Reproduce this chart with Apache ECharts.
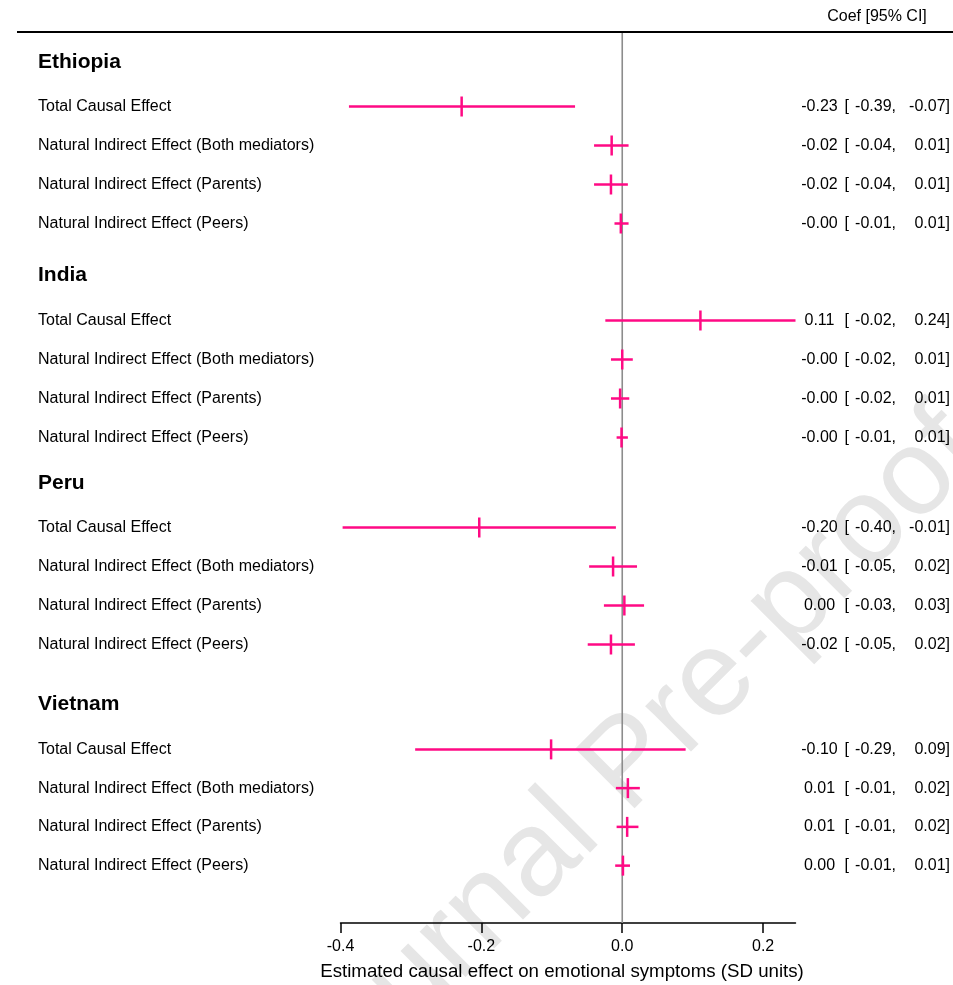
<!DOCTYPE html>
<html><head><meta charset="utf-8">
<script src="https://cdn.jsdelivr.net/npm/echarts@6/dist/echarts.min.js"></script>
<style>html,body{margin:0;padding:0;background:#fff}#c{width:953px;height:985px}</style>
</head><body><div id="c"></div>
<script>
// ---- data ----
const countries = ['Ethiopia', 'India', 'Peru', 'Vietnam'];
const effects = [
  'Total Causal Effect',
  'Natural Indirect Effect (Both mediators)',
  'Natural Indirect Effect (Parents)',
  'Natural Indirect Effect (Peers)'
];
const ethiopiaCoef  = [-0.228, -0.015, -0.016, -0.002];
const ethiopiaLower = [-0.388, -0.040, -0.040, -0.011];
const ethiopiaUpper = [-0.067,  0.009,  0.008,  0.009];
const indiaCoef  = [ 0.111,  0.000, -0.003, -0.001];
const indiaLower = [-0.024, -0.016, -0.016, -0.008];
const indiaUpper = [ 0.246,  0.015,  0.010,  0.008];
const peruCoef  = [-0.203, -0.013,  0.003, -0.016];
const peruLower = [-0.397, -0.047, -0.026, -0.049];
const peruUpper = [-0.009,  0.021,  0.031,  0.018];
const vietnamCoef  = [-0.101,  0.008,  0.007,  0.001];
const vietnamLower = [-0.294, -0.009, -0.008, -0.010];
const vietnamUpper = [ 0.090,  0.025,  0.023,  0.011];
const ethiopiaText = ['-0.23 [-0.39, -0.07]', '-0.02 [-0.04, 0.01]', '-0.02 [-0.04, 0.01]', '-0.00 [-0.01, 0.01]'];
const indiaText    = ['0.11 [-0.02, 0.24]', '-0.00 [-0.02, 0.01]', '-0.00 [-0.02, 0.01]', '-0.00 [-0.01, 0.01]'];
const peruText     = ['-0.20 [-0.40, -0.01]', '-0.01 [-0.05, 0.02]', '0.00 [-0.03, 0.03]', '-0.02 [-0.05, 0.02]'];
const vietnamText  = ['-0.10 [-0.29, 0.09]', '0.01 [-0.01, 0.02]', '0.01 [-0.01, 0.02]', '0.00 [-0.01, 0.01]'];
const xTicks = [-0.4, -0.2, 0, 0.2];
const xTitle = 'Estimated causal effect on emotional symptoms (SD units)';
const ciHeader = 'Coef [95% CI]';
const watermark = 'Journal Pre-proof';

// ---- layout / style ----
const FONT = '"Liberation Sans", Arial, sans-serif';
const PINK = '#ff0a84';
const xMin = -0.4, xMax = 0.246;
const gridTops = [87, 301, 508, 730];
const gridHeights = [156, 156, 156, 155];
const headerY = [62, 275, 483, 704];
const coefs = [ethiopiaCoef, indiaCoef, peruCoef, vietnamCoef];
const lowers = [ethiopiaLower, indiaLower, peruLower, vietnamLower];
const uppers = [ethiopiaUpper, indiaUpper, peruUpper, vietnamUpper];
const texts = [ethiopiaText, indiaText, peruText, vietnamText];

function renderCI(params, api) {
  const row = api.value(3);
  const pLo = api.coord([api.value(1), row]);
  const pHi = api.coord([api.value(2), row]);
  const pE = api.coord([api.value(0), row]);
  const st = { stroke: PINK, lineWidth: 2.5 };
  return {
    type: 'group',
    children: [
      { type: 'line', shape: { x1: pLo[0], y1: pLo[1], x2: pHi[0], y2: pHi[1] }, style: st },
      { type: 'line', shape: { x1: pE[0], y1: pE[1] - 10, x2: pE[0], y2: pE[1] + 10 }, style: st }
    ]
  };
}

const labelRich = {
  a: { width: 39, align: 'right', fontSize: 16, color: '#000', fontFamily: FONT },
  b: { width: 11, align: 'left', fontSize: 16, color: '#000', fontFamily: FONT },
  c: { width: 46, align: 'right', fontSize: 16, color: '#000', fontFamily: FONT },
  d: { width: 54, align: 'right', fontSize: 16, color: '#000', fontFamily: FONT }
};

const grids = [], xAxes = [], yAxes = [], series = [], graphics = [];
countries.forEach((c, i) => {
  grids.push({ left: 340.5, width: 455, top: gridTops[i], height: gridHeights[i], outerBoundsMode: 'none' });
  xAxes.push({ type: 'value', gridIndex: i, min: xMin, max: xMax, show: false });
  yAxes.push({
    type: 'category', gridIndex: i, inverse: true, data: effects,
    axisLine: { show: false }, axisTick: { show: false }, splitLine: { show: false },
    axisLabel: { interval: 0, align: 'left', margin: 302.5, fontSize: 16, color: '#000', fontFamily: FONT }
  });
  yAxes.push({
    type: 'category', gridIndex: i, inverse: true, position: 'right', data: effects,
    axisLine: { show: false }, axisTick: { show: false }, splitLine: { show: false },
    axisLabel: {
      interval: 0, align: 'right', margin: 154.5, rich: labelRich,
      formatter: (v, idx) => {
        const m = texts[i][idx].match(/^(\S+) \[(\S+), (\S+)\]$/);
        return '{a|' + m[1] + '}{b| [}{c|' + m[2] + ',}{d|' + m[3] + ']}';
      }
    }
  });
  series.push({
    type: 'custom', xAxisIndex: i, yAxisIndex: 2 * i, z: 3, silent: true,
    renderItem: renderCI,
    encode: { x: [0, 1, 2], y: 3 },
    data: coefs[i].map((v, k) => [v, lowers[i][k], uppers[i][k], k])
  });
  graphics.push({
    type: 'text', x: 38, y: headerY[i], z: 5,
    style: { text: c, font: 'bold 21px ' + FONT, fill: '#000', verticalAlign: 'middle' }
  });
});

// overall axis grid (zero line + bottom axis)
grids.push({ left: 340.5, width: 455, top: 32, height: 891, outerBoundsMode: 'none' });
xAxes.push({
  type: 'value', gridIndex: 4, min: xMin, max: xMax,
  splitLine: { show: false },
  axisLine: { show: true, lineStyle: { color: '#000', width: 1.5 } },
  axisTick: { show: true, length: 10, customValues: xTicks, lineStyle: { color: '#000', width: 1.5 } },
  axisLabel: { customValues: xTicks, formatter: v => v.toFixed(1), fontSize: 16, color: '#000', fontFamily: FONT, margin: 16 },
  name: xTitle, nameLocation: 'middle', nameGap: 39,
  nameTextStyle: { fontSize: 18.7, color: '#000', fontFamily: FONT, padding: [0, 12, 0, 0] }
});
yAxes.push({ type: 'value', gridIndex: 4, min: 0, max: 1, show: false });
series.push({
  type: 'line', xAxisIndex: 4, yAxisIndex: 8, z: 1, silent: true,
  symbol: 'none', data: [[0, 0], [0, 1]],
  lineStyle: { color: '#8c8c8c', width: 1.6 }
});

graphics.push({
  type: 'line', z: 5, shape: { x1: 17, y1: 32, x2: 953, y2: 32 },
  style: { stroke: '#000', lineWidth: 2 }
});
graphics.push({
  type: 'text', x: 877, y: 17, z: 5,
  style: { text: ciHeader, font: '16px ' + FONT, fill: '#000', align: 'center', verticalAlign: 'middle' }
});
graphics.push({
  type: 'text', x: 630, y: 765, z: -10, rotation: 45 * Math.PI / 180,
  style: { text: watermark, font: '122px ' + FONT, fill: '#e6e6e6', align: 'center', verticalAlign: 'middle' }
});

const chart = echarts.init(document.getElementById('c'), null, { renderer: 'canvas' });
chart.setOption({
  animation: false,
  backgroundColor: '#fff',
  textStyle: { fontFamily: FONT },
  grid: grids, xAxis: xAxes, yAxis: yAxes, series: series, graphic: graphics
});
</script>
</body></html>
